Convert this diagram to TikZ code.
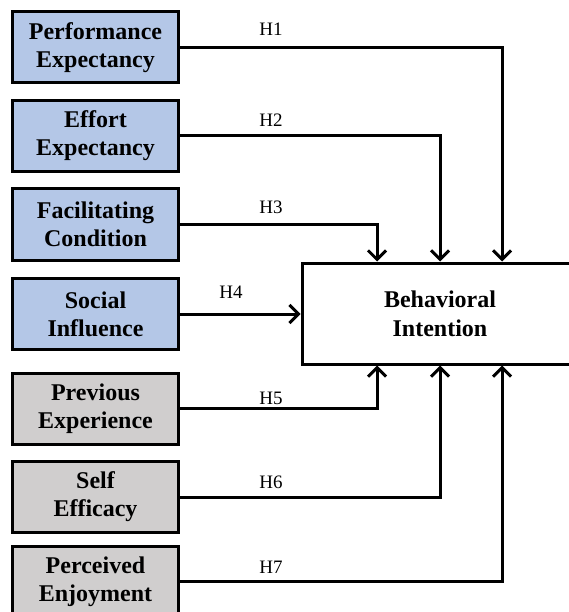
\documentclass[tikz,border=0pt]{standalone}
\usepackage{fontspec}
\setmainfont{Liberation Serif}
\usetikzlibrary{arrows.meta}

\definecolor{factorblue}{RGB}{180,199,231}
\definecolor{factorgray}{RGB}{208,206,206}

\tikzset{
	factor/.style={draw, line width=3pt, minimum width=166pt, minimum height=71pt, inner sep=0pt, align=center, font=\fontsize{24}{28}\selectfont\bfseries},
	target/.style={draw, line width=3pt, minimum width=276pt, minimum height=101pt, inner sep=0pt, align=center, font=\fontsize{24}{29}\selectfont\bfseries},
	link/.style={line width=3pt, -{Straight Barb[length=9pt, width=18pt, line width=3pt]}},
	hyp/.style={anchor=base, inner sep=0pt, font=\fontsize{19}{22}\selectfont}
}

\begin{document}
\begin{tikzpicture}[x=1pt, y=-1pt]
		\useasboundingbox	(0, 0) rectangle (569, 612);

		\node [factor, fill=factorblue]	(pe)	at (95.5, 47.5)		{Performance\\Expectancy};
		\node [factor, fill=factorblue]	(ee)	at (95.5, 136)		{Effort\\Expectancy};
		\node [factor, fill=factorblue]	(fc)	at (95.5, 224.5)	{Facilitating\\Condition};
		\node [factor, fill=factorblue]	(si)	at (95.5, 314)		{Social\\Influence};
		\node [factor, fill=factorgray]	(px)	at (95.5, 408.5)	{Previous\\Experience};
		\node [factor, fill=factorgray]	(se)	at (95.5, 497)		{Self\\Efficacy};
		\node [factor, fill=factorgray]	(pj)	at (95.5, 581.5)	{Perceived\\Enjoyment};

		\node [target]	(bi)	at (440, 313.5)	{Behavioral\\Intention};

		\draw [link]	(pe.east) -| ([xshift=62pt]bi.north);
		\draw [link]	(ee.east) -| (bi.north);
		\draw [link]	(fc.east) -| ([xshift=-63pt]bi.north);
		\draw [link]	(si.east) to (si.east -| bi.west);
		\draw [link]	(px.east) -| ([xshift=-63pt]bi.south);
		\draw [link]	(se.east) -| (bi.south);
		\draw [link]	(pj.east) -| ([xshift=62pt]bi.south);

		\node [hyp]	(h1)	at (271, 36)	{H1};
		\node [hyp]	(h2)	at (271, 127)	{H2};
		\node [hyp]	(h3)	at (271, 213)	{H3};
		\node [hyp]	(h4)	at (231, 298)	{H4};
		\node [hyp]	(h5)	at (271, 404)	{H5};
		\node [hyp]	(h6)	at (271, 488)	{H6};
		\node [hyp]	(h7)	at (271, 573)	{H7};
	\end{tikzpicture}
\end{document}
